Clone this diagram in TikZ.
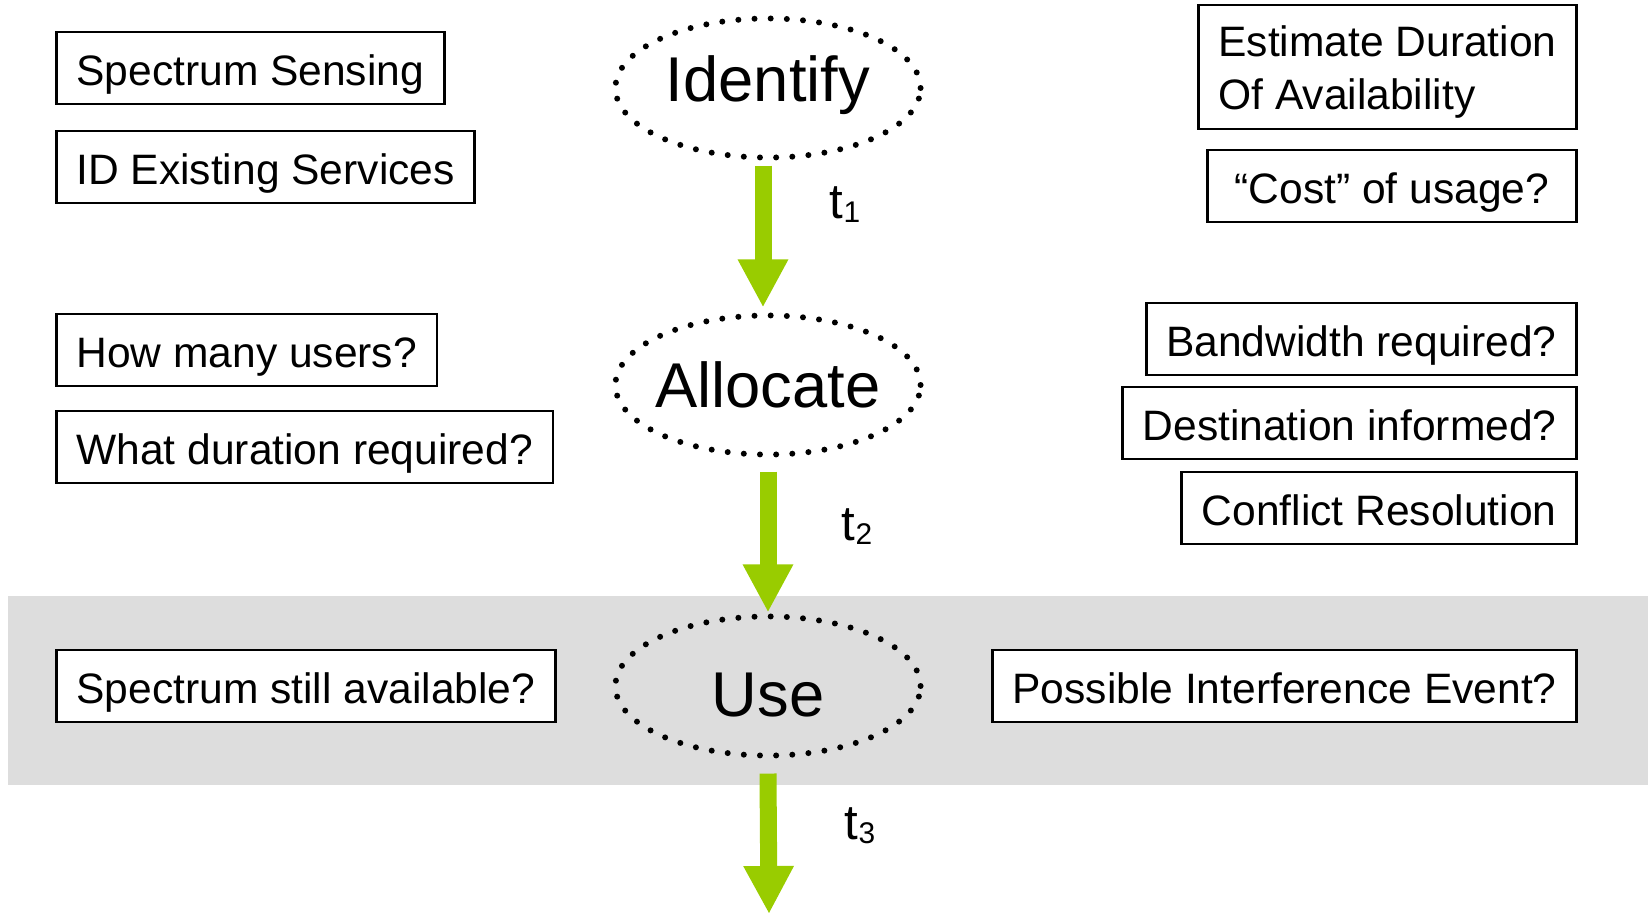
\documentclass[tikz,border=0pt]{standalone}
\usepackage{fontspec}
\setmainfont{Liberation Sans}
\usetikzlibrary{shapes.geometric}
\usetikzlibrary{arrows.meta}
\definecolor{bandgray}{RGB}{221,221,221}
\definecolor{arrowgreen}{RGB}{153,204,0}
\tikzset{question/.style={draw=black,line width=0.8pt,fill=white,inner xsep=0.2cm,minimum height=0.72cm,text height=0.34cm,text depth=0pt,font=\fontsize{12.1}{15}\selectfont}}
\begin{document}
\begin{tikzpicture}[x=0.01cm,y=-0.01cm]
\tikzset{phase/.style={ellipse,draw=black,line width=1.7pt,dash pattern=on 0pt off 4.6pt,line cap=round,inner sep=0pt,minimum width=3.05cm,minimum height=1.39cm,font=\fontsize{18}{21}\selectfont}}
\tikzset{timearrow/.style={draw=arrowgreen,line width=0.17cm,-{Triangle[width=0.47cm,length=0.48cm]}}}
\tikzset{timelabel/.style={font=\fontsize{14}{16}\selectfont}}
\newcommand{\tsub}[1]{t\raisebox{-0.15ex}{\fontsize{8.5}{10}\selectfont #1}}
\useasboundingbox (0,0) rectangle (1648,918);
% the band of the use phase
\fill[bandgray] (8,596) rectangle (1648,785);
% phases
\node[phase,text height=0.45cm,text depth=0.19cm] (identify) at (768,88) {\makebox[0pt]{Identify}};
\node[phase] (allocate) at (768,385) {\makebox[0pt]{Allocate}};
\node[phase,text height=0.61cm,text depth=0pt] (use) at (768,686) {\makebox[0pt]{Use}};
% questions left
\node[question,anchor=west] (sensing) at (55,68) {Spectrum Sensing};
\node[question,anchor=west] (existing) at (55,167) {ID Existing Services};
\node[question,anchor=west] (users) at (55,350) {How many users?};
\node[question,anchor=west] (duration) at (55,447) {What duration required?};
\node[question,anchor=west] (still) at (55,686) {Spectrum still available?};
% questions right
\node[question,anchor=east,align=left,text height=23.9pt,minimum height=1.24cm] (estimate) at (1578,67) {Estimate Duration\\Of Availability};
\node[question,anchor=east,minimum width=3.69cm] (cost) at (1578,186) {“Cost” of usage?};
\node[question,anchor=east] (bandwidth) at (1578,339) {Bandwidth required?};
\node[question,anchor=east] (destination) at (1578,423) {Destination informed?};
\node[question,anchor=east] (conflict) at (1578,508) {Conflict Resolution};
\node[question,anchor=east] (interference) at (1578,686) {Possible Interference Event?};
% time steps
\coordinate (after) at (769,914);
\draw[timearrow] ([xshift=-0.05cm,yshift=-0.05cm]identify.south) -- ([xshift=-0.05cm,yshift=0.05cm]allocate.north);
\draw[timearrow] ([yshift=-0.14cm]allocate.south) -- ([yshift=0.01cm]use.north);
\draw[timearrow] ([yshift=-0.15cm]use.south) -- (after);
\node[timelabel] (t1) at (845,205) {\tsub{1}};
\node[timelabel] (t2) at (857,527) {\tsub{2}};
\node[timelabel] (t3) at (860,826) {\tsub{3}};
\end{tikzpicture}
\end{document}
